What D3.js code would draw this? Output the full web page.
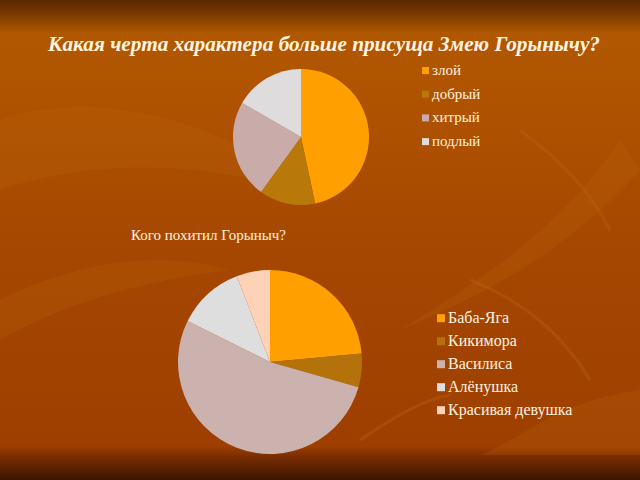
<!DOCTYPE html>
<html><head><meta charset="utf-8">
<script src="https://cdn.jsdelivr.net/npm/d3@7"></script>
<style>html,body{margin:0;padding:0;background:#a84800;}svg{display:block;}</style>
</head><body>
<svg id="c" width="640" height="480"></svg>
<script>
const title1 = "Какая черта характера больше присуща Змею Горынычу?";
const cats1 = ["злой", "добрый", "хитрый", "подлый"];
const vals1 = [14, 4, 7, 5];
const colors1 = ["#FFA000", "#B8780A", "#C9ABA9", "#DEDCDC"];

const title2 = "Кого похитил Горыныч?";
const cats2 = ["Баба-Яга", "Кикимора", "Василиса", "Алёнушка", "Красивая девушка"];
const vals2 = [4, 1, 9, 2, 1];
const colors2 = ["#FFA000", "#B3720A", "#CCB2AE", "#DEDEDE", "#FFD2B8"];

const SERIF = "'Liberation Serif', 'DejaVu Serif', 'Times New Roman', serif";

const svg = d3.select("#c");
const defs = svg.append("defs");
const g = defs.append("linearGradient").attr("id","bg").attr("x1",0).attr("y1",0).attr("x2",0).attr("y2",1);
[[0,"#5a2800"],[0.025,"#763600"],[0.07,"#b05800"],[0.2,"#b05300"],[0.5,"#a64800"],[0.93,"#9e3f00"],[0.95,"#7c2e00"],[1,"#3c1500"]]
  .forEach(([o,c])=>g.append("stop").attr("offset",o).attr("stop-color",c));
svg.append("rect").attr("width",640).attr("height",480).attr("fill","url(#bg)");

// faint leaf-like overlays
const leaf = svg.append("g").attr("fill","#c06a10").attr("opacity",0.2);
leaf.append("path").attr("d","M0,120 C120,80 250,140 330,200 C240,170 120,150 0,190 Z");
leaf.append("path").attr("d","M640,170 C560,260 470,300 400,330 C480,280 560,230 620,140 Z");
leaf.append("path").attr("d","M0,300 C80,260 160,250 230,270 C150,280 70,300 0,340 Z");
leaf.append("path").attr("d","M640,390 C560,400 520,440 480,455 L640,455 Z");
const lines = svg.append("g").attr("stroke","#c06818").attr("stroke-width",3).attr("fill","none").attr("opacity",0.3);
lines.append("path").attr("d","M520,130 C560,160 590,190 610,230");
lines.append("path").attr("d","M470,280 C520,300 560,330 590,380");
lines.append("path").attr("d","M360,440 C390,420 420,400 450,395");

const txtColor = "#FFF3E0";

svg.append("text").attr("x",324).attr("y",51).attr("text-anchor","middle")
  .style("font-family",SERIF).attr("font-style","italic").attr("font-weight","bold")
  .attr("font-size",21.5).attr("fill",txtColor)
  .attr("textLength",552).attr("lengthAdjust","spacingAndGlyphs").text(title1);

svg.append("text").attr("x",131).attr("y",240)
  .style("font-family",SERIF).attr("font-size",15).attr("fill",txtColor)
  .text(title2);

function pieChart(vals, cats, colors, cx, cy, r, lx, ly, step, fs, sq){
  const pie = d3.pie().sort(null).value(d=>d)(vals);
  const arc = d3.arc().innerRadius(0).outerRadius(r);
  const gg = svg.append("g").attr("transform",`translate(${cx},${cy})`);
  gg.selectAll("path").data(pie).join("path").attr("d",arc).attr("fill",(d,i)=>colors[i]);
  const lg = svg.append("g");
  cats.forEach((c,i)=>{
    lg.append("rect").attr("x",lx).attr("y",ly+i*step-sq/2-fs*0.3).attr("width",sq).attr("height",sq).attr("fill",colors[i]);
    lg.append("text").attr("x",lx+sq+3).attr("y",ly+i*step).style("font-family",SERIF)
      .attr("font-size",fs).attr("fill",txtColor).text(c);
  });
}
pieChart(vals1, cats1, colors1, 301, 137, 68, 422, 75, 23.7, 15, 7);
pieChart(vals2, cats2, colors2, 270, 362, 92, 437, 323, 23, 16, 8);
</script>
</body></html>
